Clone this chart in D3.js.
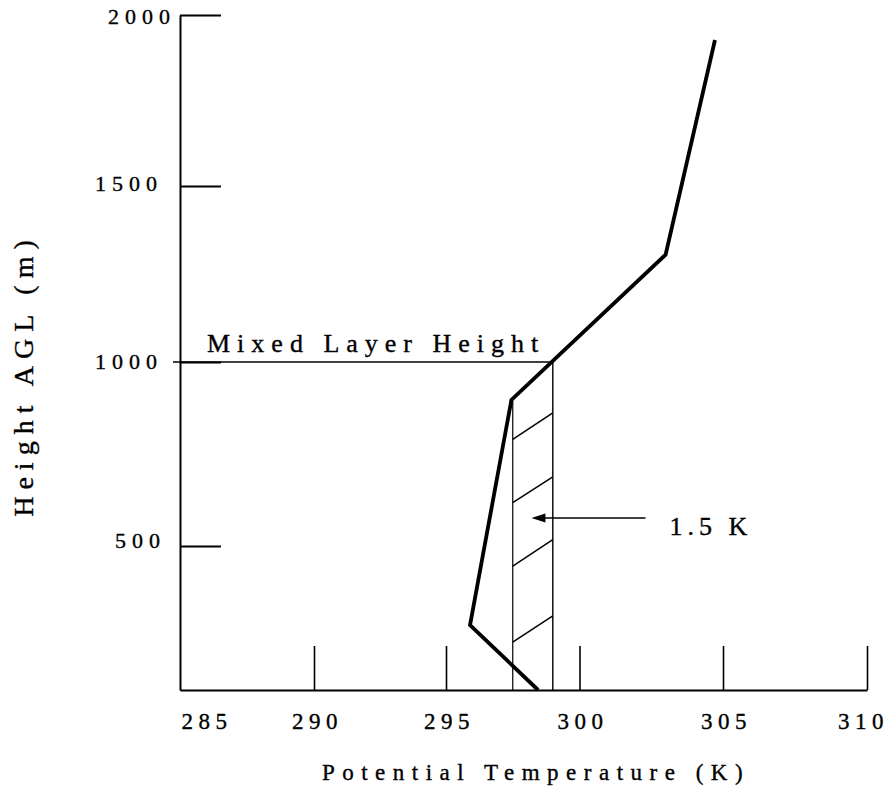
<!DOCTYPE html>
<html>
<head>
<meta charset="utf-8">
<script src="https://cdn.jsdelivr.net/npm/d3@7"></script>
<style>
  html, body { margin: 0; padding: 0; background: #fff; }
  svg { display: block; }
</style>
</head>
<body>
<svg id="chart" width="896" height="793"></svg>
<script>
// ---- data ----
const xTicks = [285, 290, 295, 300, 305, 310];
const yTicks = [500, 1000, 1500, 2000];
const yBottom = 100;
// potential temperature profile (K) vs height AGL (m)
const profileTheta  = [298.45, 295.9, 297.45, 303.0, 304.72];
const profileHeight = [100,    280,   897,    1305,  1927];
// mixed layer
const mixedLayerHeight = 1000;
const mixedLeftTheta = 297.5;
const mixedRightTheta = 299.0;
const hatchLeftHeight  = [233, 444, 618, 790];
const hatchRightHeight = [306, 517, 688, 862];
const arrowTheta = [302.3, 298.2];
const arrowHeight = 576;
const labels = {
  x: "Potential Temperature (K)",
  y: "Height AGL (m)",
  mixed: "Mixed Layer Height",
  delta: "1.5 K"
};

const FONT = "'Liberation Serif', 'DejaVu Serif', 'Noto Serif', 'Times New Roman', Times, serif";
// small label placement nudges (px) to follow the original hand layout
const yLabelNudge = { 2000: [13, 1], 1500: [0, -3], 1000: [0, -1], 500: [3, -6] };
const xLabelNudge = { 310: -7 };

// ---- scales ----
const svg = d3.select("#chart");
const x = d3.scaleLinear().domain(xTicks).range([180, 314, 446, 579.5, 723, 867]);
const y = d3.scaleLinear().domain([yBottom].concat(yTicks)).range([690, 546, 362, 186, 15]);
const fmt = d3.format("d");

function styleText(sel, size, ls) {
  return sel.style("font-family", FONT).style("font-size", size + "px")
    .style("letter-spacing", ls + "px").attr("fill", "#000")
    .attr("stroke", "#000").attr("stroke-width", 0.35);
}

// ---- axes ----
const yAxis = d3.axisLeft(y).tickValues(yTicks).tickFormat(fmt)
  .tickSizeInner(-41).tickSizeOuter(0).tickPadding(17);
const gy = svg.append("g").attr("transform", `translate(${x(285)},0)`).call(yAxis);
gy.attr("font-family", FONT).attr("font-size", 22);
gy.select(".domain").attr("stroke-width", 2);
gy.selectAll(".tick line").attr("stroke-width", 1.8);
styleText(gy.selectAll(".tick text"), 22, 6)
  .attr("dx", d => (yLabelNudge[d] || [0, 0])[0])
  .attr("y", d => (yLabelNudge[d] || [0, 0])[1]);

const xAxis = d3.axisBottom(x).tickValues(xTicks).tickFormat(fmt)
  .tickSizeInner(-44).tickSizeOuter(0).tickPadding(23);
const gx = svg.append("g").attr("transform", `translate(0,${y(yBottom)})`).call(xAxis);
gx.attr("font-family", FONT).attr("font-size", 22);
gx.select(".domain").attr("stroke-width", 2.2);
gx.selectAll(".tick line").attr("stroke-width", 1.6);
styleText(gx.selectAll(".tick text"), 23, 5.5)
  .attr("dx", d => 3 + (xLabelNudge[d] || 0));
gx.selectAll(".tick text").filter(d => d === xTicks[0]).attr("text-anchor", "start").attr("dx", 1);
gx.selectAll(".tick").filter(d => d === xTicks[0]).select("line").remove();

// ---- mixed layer box ----
const thin = 1.4;
svg.append("line")
  .attr("x1", x(285) - 7).attr("x2", x(mixedRightTheta))
  .attr("y1", y(mixedLayerHeight)).attr("y2", y(mixedLayerHeight))
  .attr("stroke", "#000").attr("stroke-width", thin);
svg.append("line")
  .attr("x1", x(mixedRightTheta)).attr("x2", x(mixedRightTheta))
  .attr("y1", y(mixedLayerHeight)).attr("y2", y(yBottom))
  .attr("stroke", "#000").attr("stroke-width", thin);
svg.append("line")
  .attr("x1", x(mixedLeftTheta)).attr("x2", x(mixedLeftTheta))
  .attr("y1", y(profileHeight[2])).attr("y2", y(yBottom))
  .attr("stroke", "#000").attr("stroke-width", 1.2);

svg.append("g").selectAll("line").data(hatchLeftHeight).join("line")
  .attr("x1", x(mixedLeftTheta)).attr("x2", x(mixedRightTheta))
  .attr("y1", d => y(d)).attr("y2", (d, i) => y(hatchRightHeight[i]))
  .attr("stroke", "#000").attr("stroke-width", 1.5);

// ---- profile ----
const pts = profileTheta.map((t, i) => [t, profileHeight[i]]);
svg.append("path")
  .datum(pts)
  .attr("d", d3.line().x(d => x(d[0])).y(d => y(d[1])))
  .attr("fill", "none").attr("stroke", "#000").attr("stroke-width", 3.8)
  .attr("stroke-linejoin", "miter").attr("stroke-linecap", "butt");

// ---- arrow ----
svg.append("line")
  .attr("x1", x(arrowTheta[0])).attr("x2", x(arrowTheta[1]) + 12)
  .attr("y1", y(arrowHeight)).attr("y2", y(arrowHeight))
  .attr("stroke", "#000").attr("stroke-width", 1.6);
svg.append("path")
  .attr("d", `M${x(arrowTheta[1])},${y(arrowHeight)} l14,-4.5 l0,9 Z`)
  .attr("fill", "#000");

// ---- annotation text ----
function txt(s, size, ls) {
  return styleText(svg.append("text"), size, ls).text(s);
}
txt(labels.mixed, 26, 7).attr("x", 207).attr("y", y(mixedLayerHeight) - 10);
txt(labels.delta, 26, 5).attr("x", x(arrowTheta[0]) + 24).attr("y", y(arrowHeight) + 17);

// ---- axis titles ----
txt(labels.x, 23, 7.5).attr("x", 536).attr("y", 780).attr("text-anchor", "middle");
txt(labels.y, 28, 7).attr("transform", "translate(33,375) rotate(-90)").attr("text-anchor", "middle");
</script>
</body>
</html>
